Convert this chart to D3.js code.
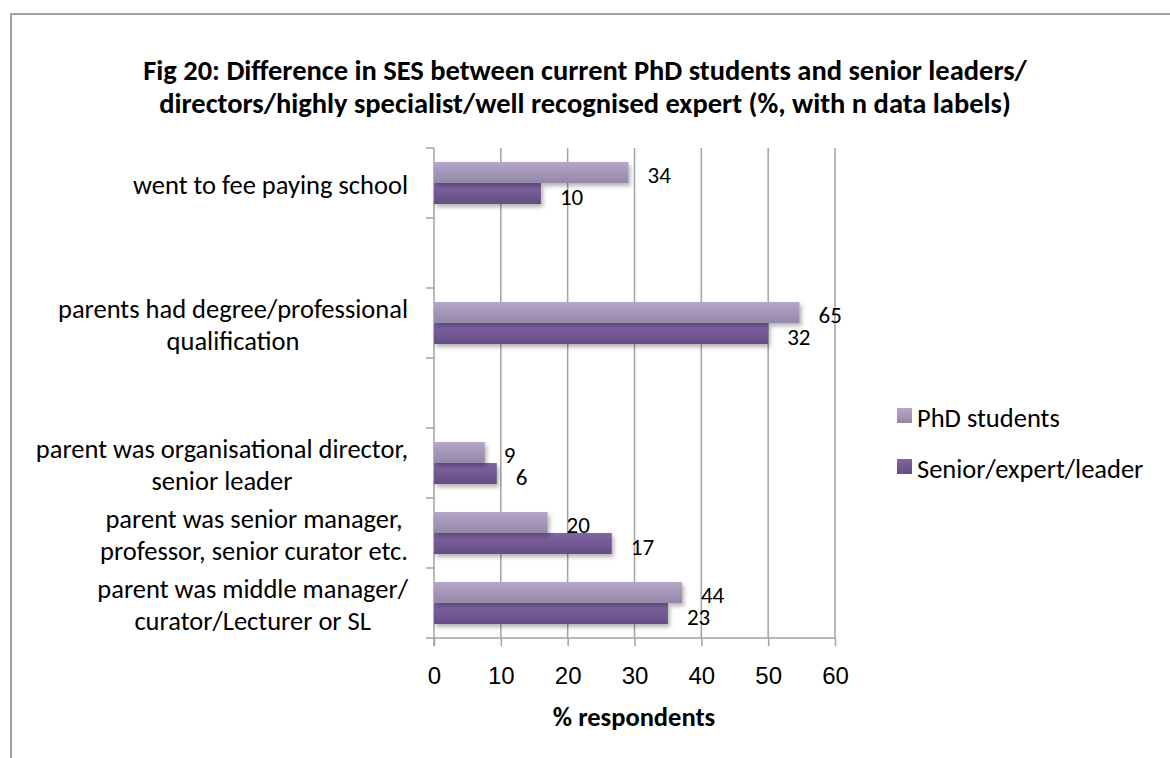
<!DOCTYPE html>
<html>
<head>
<meta charset="utf-8">
<script src="https://cdn.jsdelivr.net/npm/d3@7"></script>
<style>
  body { margin: 0; background: #fff; }
  svg { display: block; font-family: Carlito, Calibri, Lato, sans-serif; }
</style>
</head>
<body>
<svg id="chart" width="1170" height="758"></svg>
<script>
"use strict";

// categories top to bottom, empty strings are the blank slots in the original
let categories = [
  "went to fee paying school",
  "",
  "parents had degree/professional\nqualification",
  "",
  "parent was organisational director,\nsenior leader",
  "parent was senior manager,\nprofessor, senior curator etc.",
  "parent was middle manager/\ncurator/Lecturer or SL"
];
let seriesNames = ["PhD students", "Senior/expert/leader"];
let phdValues = [29.1, null, 54.7, null, 7.6, 17.0, 37.1];
let seniorValues = [16.0, null, 50.0, null, 9.4, 26.6, 35.0];
let phdN = [34, null, 65, null, 9, 20, 44];
let seniorN = [10, null, 32, null, 6, 17, 23];
let xTicks = [0, 10, 20, 30, 40, 50, 60];

let svg = d3.select("#chart");
let gridColor = "#a3a3a3";
let fs = 26.5;

// outer frame (right and bottom edges are off the picture)
svg.append("path")
  .attr("d", "M11,758V14H1170")
  .attr("fill", "none")
  .attr("stroke", "#a0a0a0")
  .attr("stroke-width", 2);

let x = d3.scaleLinear().domain([0, 60]).range([434, 835]);
let y = d3.scaleBand()
  .domain(d3.range(categories.length))
  .range([148, 638])
  .paddingInner(0.4)
  .paddingOuter(0.2);
let ySub = d3.scaleBand().domain([0, 1]).range([0, y.bandwidth()]);

let defs = svg.append("defs");
let grads = [
  { id: "gPhd", top: "#b5a6ca", bottom: "#9488a8" },
  { id: "gSen", top: "#8165a3", bottom: "#654d84" }
];
grads.forEach((g) => {
  let lg = defs.append("linearGradient")
    .attr("id", g.id).attr("x1", 0).attr("y1", 0).attr("x2", 0).attr("y2", 1);
  lg.append("stop").attr("offset", "0%").attr("stop-color", g.top);
  lg.append("stop").attr("offset", "100%").attr("stop-color", g.bottom);
});
let shadow = defs.append("filter").attr("id", "shadow")
  .attr("x", "-10%").attr("y", "-20%").attr("width", "130%").attr("height", "160%");
shadow.append("feDropShadow")
  .attr("dx", 2).attr("dy", 3).attr("stdDeviation", 2)
  .attr("flood-color", "#000").attr("flood-opacity", 0.3);

// title
let title = svg.append("text")
  .attr("text-anchor", "middle")
  .attr("font-weight", "bold")
  .attr("font-size", 28.5)
  .attr("fill", "#000");
title.append("tspan").attr("x", 585).attr("y", 80)
  .text("Fig 20: Difference in SES between current PhD students and senior leaders/");
title.append("tspan").attr("x", 585).attr("y", 113)
  .text("directors/highly specialist/well recognised expert (%, with n data labels)");

// vertical gridlines
svg.append("g")
  .selectAll("line")
  .data(xTicks.slice(1))
  .enter()
  .append("line")
  .attr("x1", (d) => x(d)).attr("x2", (d) => x(d))
  .attr("y1", 148).attr("y2", 638)
  .attr("stroke", gridColor)
  .attr("stroke-width", 1.5);

// x axis
let xAxis = svg.append("g")
  .attr("transform", "translate(0,638)")
  .call(d3.axisBottom(x).tickValues(xTicks).tickSize(8).tickPadding(21).tickFormat(d3.format("d")));
xAxis.select(".domain").remove();
xAxis.selectAll(".tick line").attr("stroke", gridColor).attr("stroke-width", 1.5);
xAxis.selectAll(".tick text")
  .attr("font-size", 24).attr("font-family", null).attr("fill", "#000");
svg.append("line")
  .attr("x1", 426).attr("x2", x(60))
  .attr("y1", 638).attr("y2", 638)
  .attr("stroke", gridColor).attr("stroke-width", 1.5);

// y axis with ticks on slot boundaries
svg.append("line")
  .attr("x1", x(0)).attr("x2", x(0))
  .attr("y1", 148).attr("y2", 646)
  .attr("stroke", gridColor).attr("stroke-width", 1.5);
svg.append("g")
  .selectAll("line")
  .data(d3.range(categories.length))
  .enter()
  .append("line")
  .attr("x1", 426).attr("x2", x(0))
  .attr("y1", (d) => y(d) - y.step() * 0.2)
  .attr("y2", (d) => y(d) - y.step() * 0.2)
  .attr("stroke", gridColor).attr("stroke-width", 1.5);

// category labels, centred lines in a block right-aligned near the axis
let catG = svg.append("g");
categories.forEach((c, i) => {
  if (!c) return;
  let lines = c.split("\n");
  let t = catG.append("text")
    .attr("font-size", fs)
    .attr("text-anchor", "middle")
    .attr("fill", "#000");
  lines.forEach((ln, j) => {
    t.append("tspan").text(ln)
      .attr("y", y(i) + y.bandwidth() / 2 + (j - (lines.length - 1) / 2) * 32 + 11);
  });
  let w = d3.max(t.selectAll("tspan").nodes(), (n) => n.getComputedTextLength());
  t.selectAll("tspan").attr("x", 408 - w / 2);
});

// bars
let rows = categories.map((c, i) => ({ i: i, vals: [phdValues[i], seniorValues[i]], ns: [phdN[i], seniorN[i]] }))
  .filter((r) => r.vals[0] != null);

let fills = ["url(#gPhd)", "url(#gSen)"];
[1, 0].forEach((s) => {
  svg.append("g")
    .selectAll("rect")
    .data(rows)
    .enter()
    .append("rect")
    .attr("x", x(0))
    .attr("y", (d) => y(d.i) + ySub(s))
    .attr("width", (d) => x(d.vals[s]) - x(0))
    .attr("height", ySub.bandwidth())
    .attr("fill", fills[s])
    .attr("filter", "url(#shadow)");
});

// n data labels
[0, 1].forEach((s) => {
  svg.append("g")
    .selectAll("text")
    .data(rows)
    .enter()
    .append("text")
    .attr("x", (d) => x(d.vals[s]) + 19)
    .attr("y", (d) => y(d.i) + ySub(s) + ySub.bandwidth() / 2 + (s ? 11 : 10))
    .attr("font-size", 23)
    .attr("fill", "#000")
    .text((d) => d.ns[s]);
});

// x axis title
svg.append("text")
  .attr("x", 634).attr("y", 726)
  .attr("text-anchor", "middle")
  .attr("font-weight", "bold")
  .attr("font-size", fs)
  .text("% respondents");

// legend
let legend = svg.append("g")
  .selectAll("g")
  .data(seriesNames)
  .enter()
  .append("g")
  .attr("transform", (d, i) => `translate(897,${408 + i * 51})`);
legend.append("rect")
  .attr("width", 15).attr("height", 15)
  .attr("fill", (d, i) => fills[i]);
legend.append("text")
  .attr("x", 20).attr("y", 19)
  .attr("font-size", fs)
  .text((d) => d);
</script>
</body>
</html>
